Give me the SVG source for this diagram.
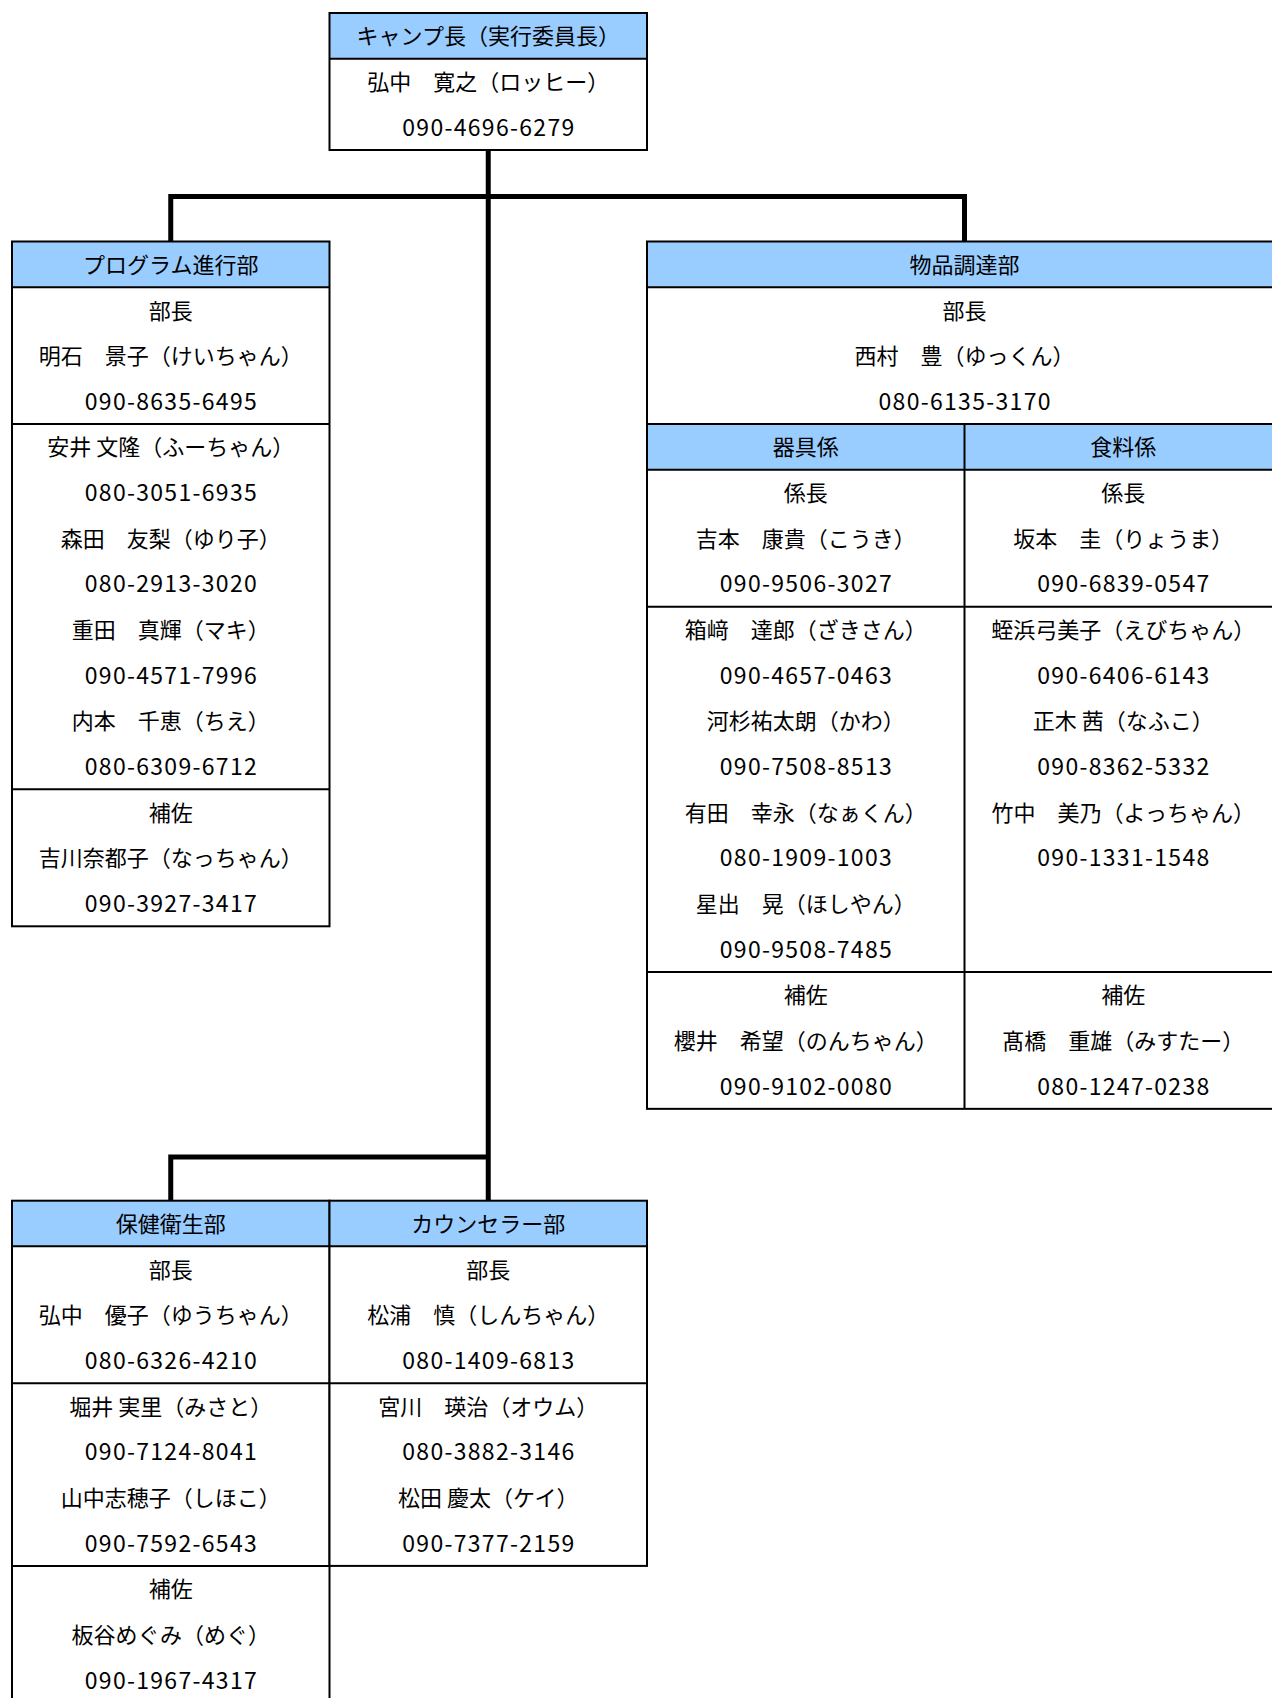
<svg xmlns="http://www.w3.org/2000/svg" width="1272" height="1698" viewBox="0 0 1272 1698">
<style>
.bg{fill:#ffffff}
.hd{fill:#99ccff}
.bx{fill:none;stroke:#000;stroke-width:2}
.ln{stroke:#000;stroke-width:2}
.cn{fill:none;stroke:#000;stroke-width:5;stroke-linecap:butt;stroke-linejoin:miter}
text{font-family:"Noto Sans CJK JP","Noto Sans CJK SC",sans-serif;font-size:22px;fill:#000;text-anchor:middle;dominant-baseline:central}
.ph{font-size:23px}
</style>
<rect width="1272" height="1698" fill="#ffffff"/>

<g id="connectors">
<path class="cn" d="M488.25 150 V1200.7"/>
<path class="cn" d="M170.75 241.5 V196.5 H964.5 V241.5"/>
<path class="cn" d="M170.75 1200.7 V1157 H488.25"/>
</g>

<g transform="translate(0,-1.5)">
<g id="node-camp-leader">
<rect class="bg" x="329.5" y="14.5" width="317.5" height="137"/>
<rect class="hd" x="329.5" y="14.5" width="317.5" height="45.65"/>
<line class="ln" x1="329.5" y1="60.15" x2="647" y2="60.15"/>
<rect class="bx" x="329.5" y="14.5" width="317.5" height="137"/>
<text x="488.25" y="35.8">キャンプ長（実行委員長）</text>
<text x="488.25" y="81.5">弘中　寛之（ロッヒー）</text>
<text class="ph" x="488.25" y="127.1" textLength="172">090-4696-6279</text>
</g>

<g id="node-program">
<rect class="bg" x="12" y="243" width="317.5" height="684.8"/>
<rect class="hd" x="12" y="243" width="317.5" height="45.65"/>
<line class="ln" x1="12" y1="288.65" x2="329.5" y2="288.65"/>
<line class="ln" x1="12" y1="425.6" x2="329.5" y2="425.6"/>
<line class="ln" x1="12" y1="790.8" x2="329.5" y2="790.8"/>
<rect class="bx" x="12" y="243" width="317.5" height="684.8"/>
<text x="170.75" y="264.3">プログラム進行部</text>
<text x="170.75" y="310">部長</text>
<text x="170.75" y="355.6">明石　景子（けいちゃん）</text>
<text class="ph" x="170.75" y="401.3" textLength="172">090-8635-6495</text>
<text x="170.75" y="446.9">安井 文隆（ふーちゃん）</text>
<text class="ph" x="170.75" y="492.6" textLength="172">080-3051-6935</text>
<text x="170.75" y="538.2">森田　友梨（ゆり子）</text>
<text class="ph" x="170.75" y="583.9" textLength="172">080-2913-3020</text>
<text x="170.75" y="629.5">重田　真輝（マキ）</text>
<text class="ph" x="170.75" y="675.2" textLength="172">090-4571-7996</text>
<text x="170.75" y="720.8">内本　千恵（ちえ）</text>
<text class="ph" x="170.75" y="766.5" textLength="172">080-6309-6712</text>
<text x="170.75" y="812.1">補佐</text>
<text x="170.75" y="857.8">吉川奈都子（なっちゃん）</text>
<text class="ph" x="170.75" y="903.4" textLength="172">090-3927-3417</text>
</g>

<g id="node-supply">
<rect class="bg" x="647" y="243" width="635" height="867.35"/>
<rect class="hd" x="647" y="243" width="635" height="45.65"/>
<rect class="hd" x="647" y="425.6" width="635" height="45.65"/>
<line class="ln" x1="647" y1="288.65" x2="1282" y2="288.65"/>
<line class="ln" x1="647" y1="425.6" x2="1282" y2="425.6"/>
<line class="ln" x1="647" y1="471.25" x2="1282" y2="471.25"/>
<line class="ln" x1="647" y1="608.2" x2="1282" y2="608.2"/>
<line class="ln" x1="647" y1="973.4" x2="1282" y2="973.4"/>
<line class="ln" x1="964.5" y1="425.6" x2="964.5" y2="1110.35"/>
<rect class="bx" x="647" y="243" width="635" height="867.35"/>
<text x="964.5" y="264.3">物品調達部</text>
<text x="964.5" y="310">部長</text>
<text x="964.5" y="355.6">西村　豊（ゆっくん）</text>
<text class="ph" x="964.5" y="401.3" textLength="172">080-6135-3170</text>
<g id="node-equipment">
<text x="805.75" y="446.9">器具係</text>
<text x="805.75" y="492.6">係長</text>
<text x="805.75" y="538.2">吉本　康貴（こうき）</text>
<text class="ph" x="805.75" y="583.9" textLength="172">090-9506-3027</text>
<text x="805.75" y="629.5">箱﨑　達郎（ざきさん）</text>
<text class="ph" x="805.75" y="675.2" textLength="172">090-4657-0463</text>
<text x="805.75" y="720.8">河杉祐太朗（かわ）</text>
<text class="ph" x="805.75" y="766.5" textLength="172">090-7508-8513</text>
<text x="805.75" y="812.1">有田　幸永（なぁくん）</text>
<text class="ph" x="805.75" y="857.8" textLength="172">080-1909-1003</text>
<text x="805.75" y="903.4">星出　晃（ほしやん）</text>
<text class="ph" x="805.75" y="949.1" textLength="172">090-9508-7485</text>
<text x="805.75" y="994.7">補佐</text>
<text x="805.75" y="1040.4">櫻井　希望（のんちゃん）</text>
<text class="ph" x="805.75" y="1086" textLength="172">090-9102-0080</text>
</g>
<g id="node-food">
<text x="1123.25" y="446.9">食料係</text>
<text x="1123.25" y="492.6">係長</text>
<text x="1123.25" y="538.2">坂本　圭（りょうま）</text>
<text class="ph" x="1123.25" y="583.9" textLength="172">090-6839-0547</text>
<text x="1123.25" y="629.5">蛭浜弓美子（えびちゃん）</text>
<text class="ph" x="1123.25" y="675.2" textLength="172">090-6406-6143</text>
<text x="1123.25" y="720.8">正木 茜（なふこ）</text>
<text class="ph" x="1123.25" y="766.5" textLength="172">090-8362-5332</text>
<text x="1123.25" y="812.1">竹中　美乃（よっちゃん）</text>
<text class="ph" x="1123.25" y="857.8" textLength="172">090-1331-1548</text>
<text x="1123.25" y="994.7">補佐</text>
<text x="1123.25" y="1040.4">髙橋　重雄（みすたー）</text>
<text class="ph" x="1123.25" y="1086" textLength="172">080-1247-0238</text>
</g>
</g>

<g id="node-health">
<rect class="bg" x="12" y="1202.2" width="317.5" height="502.2"/>
<rect class="hd" x="12" y="1202.2" width="317.5" height="45.65"/>
<line class="ln" x1="12" y1="1247.85" x2="329.5" y2="1247.85"/>
<line class="ln" x1="12" y1="1384.8" x2="329.5" y2="1384.8"/>
<line class="ln" x1="12" y1="1567.4" x2="329.5" y2="1567.4"/>
<rect class="bx" x="12" y="1202.2" width="317.5" height="502.2"/>
<text x="170.75" y="1223.5">保健衛生部</text>
<text x="170.75" y="1269.2">部長</text>
<text x="170.75" y="1314.8">弘中　優子（ゆうちゃん）</text>
<text class="ph" x="170.75" y="1360.5" textLength="172">080-6326-4210</text>
<text x="170.75" y="1406.1">堀井 実里（みさと）</text>
<text class="ph" x="170.75" y="1451.8" textLength="172">090-7124-8041</text>
<text x="170.75" y="1497.4">山中志穂子（しほこ）</text>
<text class="ph" x="170.75" y="1543.1" textLength="172">090-7592-6543</text>
<text x="170.75" y="1588.7">補佐</text>
<text x="170.75" y="1634.4">板谷めぐみ（めぐ）</text>
<text class="ph" x="170.75" y="1680" textLength="172">090-1967-4317</text>
</g>

<g id="node-counselor">
<rect class="bg" x="329.5" y="1202.2" width="317.5" height="365.2"/>
<rect class="hd" x="329.5" y="1202.2" width="317.5" height="45.65"/>
<line class="ln" x1="329.5" y1="1247.85" x2="647" y2="1247.85"/>
<line class="ln" x1="329.5" y1="1384.8" x2="647" y2="1384.8"/>
<rect class="bx" x="329.5" y="1202.2" width="317.5" height="365.2"/>
<text x="488.25" y="1223.5">カウンセラー部</text>
<text x="488.25" y="1269.2">部長</text>
<text x="488.25" y="1314.8">松浦　慎（しんちゃん）</text>
<text class="ph" x="488.25" y="1360.5" textLength="172">080-1409-6813</text>
<text x="488.25" y="1406.1">宮川　瑛治（オウム）</text>
<text class="ph" x="488.25" y="1451.8" textLength="172">080-3882-3146</text>
<text x="488.25" y="1497.4">松田 慶太（ケイ）</text>
<text class="ph" x="488.25" y="1543.1" textLength="172">090-7377-2159</text>
</g>
</g>
</svg>
